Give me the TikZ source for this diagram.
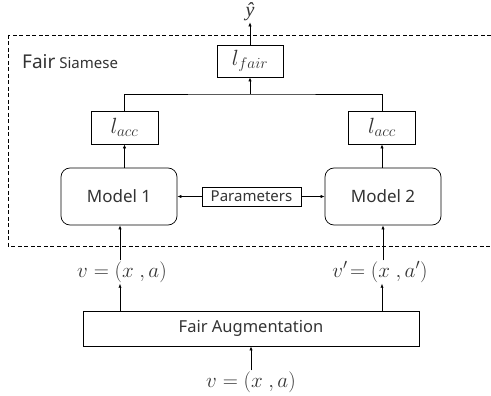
\RequirePackage{fix-cm}
\documentclass[tikz,border=0pt]{standalone}
\usepackage[no-math]{fontspec}
\setmainfont{Noto Sans}
\newfontfamily\serifit{Liberation Serif}
\usetikzlibrary{arrows.meta,positioning}

\begin{document}
\begin{tikzpicture}[x=1pt, y=-1pt,
    font=\fontsize{15}{18}\selectfont, text=black!80,
    box/.style={rectangle, draw, line width=0.7pt, inner sep=0pt},
    modelbox/.style={box, rounded corners=9pt, minimum width=116pt, minimum height=57pt, font=\fontsize{17}{20}\selectfont},
    lossbox/.style={box, minimum width=67pt, minimum height=33pt, font=\fontsize{22}{24}\selectfont},
    mathlabel/.style={font=\fontsize{21}{24}\selectfont, inner sep=1pt},
    arr/.style={-{Latex[length=4pt,width=3.2pt]}, line width=0.6pt}]
    \useasboundingbox (0,0) rectangle (491,396);
    % Frame
    \draw[line width=0.7pt, dash pattern=on 4pt off 2.5pt] (8,35) rectangle (500,246);
    \node (title) [anchor=base west, inner sep=0pt] at (22,69)
        {{\fontsize{19}{22}\selectfont Fair} Siamese};
    % Nodes
    \node (yhat) [inner sep=1pt, font=\serifit\itshape\fontsize{20}{22}\selectfont] at (250,12) {ŷ};
    \node (lfair) [lossbox, minimum width=66pt, minimum height=32pt] at (250,61) {$l_{fair}$};
    \node (accl) [lossbox] at (124.5,127.5) {$l_{acc}$};
    \node (accr) [lossbox] at (382,127.5) {$l_{acc}$};
    \node (model1) [modelbox] at (119,196.5) {Model 1};
    \node (model2) [modelbox] at (383,196.5) {Model 2};
    \node (params) [box, minimum width=99pt, minimum height=19pt] at (251.5,196.5) {Parameters};
    \node (vl) [mathlabel] at (122,272) {$v = (x\ ,a)$};
    \node (vr) [mathlabel] at (380,272) {$v'\!= (x\ ,a')$};
    \node (aug) [box, minimum width=336pt, minimum height=35pt, font=\fontsize{16.5}{20}\selectfont] at (251,328.5) {Fair Augmentation};
    \node (vin) [mathlabel] at (251,382) {$v = (x\ ,a)$};
    \coordinate (join) at (250,94);
    % Arrows
    \draw[arr] (lfair) -- (yhat);
    \draw[line width=0.6pt] (accl.north) |- (join) -| (accr.north);
    \draw[arr] (join) -- (lfair);
    \draw[arr] (model1.north -| accl.south) -- (accl);
    \draw[arr] (model2.north -| accr.south) -- (accr);
    \draw[arr] (params) -- (model1);
    \draw[arr] (params) -- (model2);
    \draw[arr] (vl.north -| 120,0) -- (model1.south -| 120,0);
    \draw[arr] (vr.north -| 383,0) -- (model2.south -| 383,0);
    \draw[arr] (aug.north -| 120,0) -- (vl.south -| 120,0);
    \draw[arr] (aug.north -| 382,0) -- (vr.south -| 382,0);
    \draw[arr] (vin) -- (aug);
\end{tikzpicture}
\end{document}
